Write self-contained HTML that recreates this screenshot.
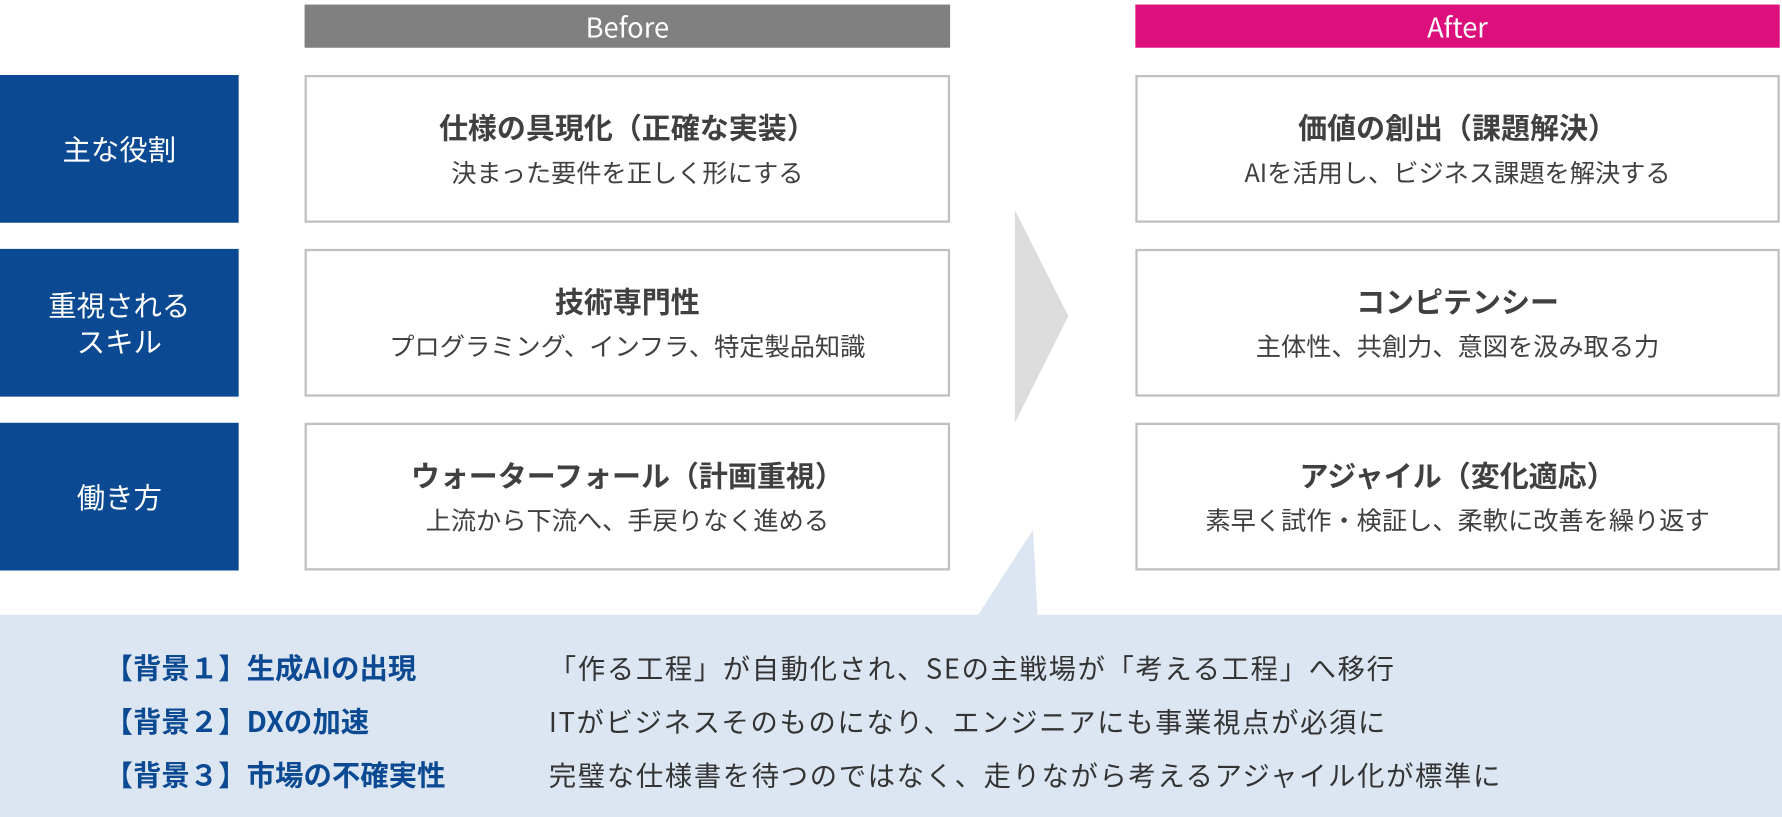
<!DOCTYPE html>
<html><head><meta charset="utf-8"><style>
html,body{margin:0;padding:0;background:#fff;width:1782px;height:817px;overflow:hidden}
#w{position:absolute;left:0;top:0;width:1568px;height:719px;transform:scale(1.13648);transform-origin:0 0;font-family:"Noto Sans CJK JP","Liberation Sans",sans-serif}
.a{position:absolute;box-sizing:border-box}
.hd{color:#fff;font-size:24px;display:flex;align-items:center;justify-content:center;line-height:38px}
.lb{left:0;width:210px;height:130px;background:#0b4a92;color:#fff;font-size:25px;display:flex;align-items:center;justify-content:center;text-align:center;line-height:32px}
.bx{width:568px;height:130px;border:2.6px solid #c0c0c0;background:#fff;color:#404040;text-align:center}
.bx b{display:block;font-size:25.5px;margin-top:28px;line-height:32px;white-space:nowrap}
.bx span{display:block;font-size:22.2px;margin-top:9px;line-height:28px;white-space:nowrap}
.r{position:absolute;font-size:24px;letter-spacing:1.5px;line-height:30px;color:#333;white-space:nowrap}
.k{color:#0b4a92;font-weight:bold;font-size:25px;letter-spacing:0}
</style></head><body><div id="w">
<div class="a hd" style="left:268px;top:4px;width:568px;height:38px;background:#808080">Before</div>
<div class="a hd" style="left:999px;top:4px;width:567px;height:38px;background:#dc0f7c">After</div>

<div class="a lb" style="top:66px">主な役割</div>
<div class="a lb" style="top:219px">重視される<br>スキル</div>
<div class="a lb" style="top:372px">働き方</div>

<div class="a bx" style="left:268px;top:66px"><b>仕様の具現化（正確な実装）</b><span>決まった要件を正しく形にする</span></div>
<div class="a bx" style="left:268px;top:219px"><b>技術専門性</b><span>プログラミング、インフラ、特定製品知識</span></div>
<div class="a bx" style="left:268px;top:372px"><b>ウォーターフォール（計画重視）</b><span>上流から下流へ、手戻りなく進める</span></div>

<div class="a bx" style="left:999px;top:66px;width:567px"><b>価値の創出（課題解決）</b><span>AIを活用し、ビジネス課題を解決する</span></div>
<div class="a bx" style="left:999px;top:219px;width:567px"><b>コンピテンシー</b><span>主体性、共創力、意図を汲み取る力</span></div>
<div class="a bx" style="left:999px;top:372px;width:567px"><b>アジャイル（変化適応）</b><span>素早く試作・検証し、柔軟に改善を繰り返す</span></div>

<svg class="a" style="left:0;top:0" width="1568" height="719">
<polygon points="893,185 940,278 893,372" fill="#dcdcdc"/>
<polygon points="860,542 909,466 913,542" fill="#dce6f2"/>
<rect x="0" y="541" width="1568" height="178" fill="#dce6f2"/>
</svg>

<div class="r k" style="left:92px;top:572px">【背景１】生成AIの出現</div>
<div class="r" style="left:483px;top:572px">「作る工程」が自動化され、SEの主戦場が「考える工程」へ移行</div>
<div class="r k" style="left:92px;top:619px">【背景２】DXの加速</div>
<div class="r" style="left:483px;top:619px">ITがビジネスそのものになり、エンジニアにも事業視点が必須に</div>
<div class="r k" style="left:92px;top:666px">【背景３】市場の不確実性</div>
<div class="r" style="left:483px;top:666px">完璧な仕様書を待つのではなく、走りながら考えるアジャイル化が標準に</div>
</div></body></html>
